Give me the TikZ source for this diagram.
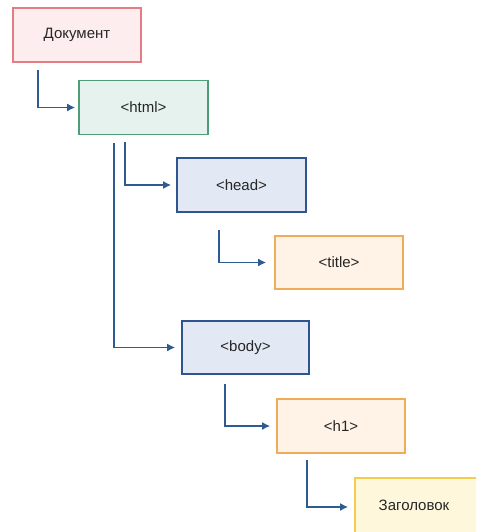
\documentclass[tikz,border=0pt]{standalone}
\usepackage{fontspec}
\setmainfont{Liberation Sans}
\usetikzlibrary{arrows.meta}
\definecolor{docfill}{HTML}{FDEDEE}
\definecolor{docdraw}{HTML}{E47C84}
\definecolor{htmlfill}{HTML}{E5F2EE}
\definecolor{htmldraw}{HTML}{4E9C78}
\definecolor{bluefill}{HTML}{E2E9F5}
\definecolor{bluedraw}{HTML}{2E558F}
\definecolor{orfill}{HTML}{FEF3E6}
\definecolor{ordraw}{HTML}{F1AC5A}
\definecolor{yefill}{HTML}{FFF7DC}
\definecolor{yedraw}{HTML}{F4CD4E}
\definecolor{arr}{HTML}{2F5B93}
\begin{document}
\begin{tikzpicture}[x=1pt,y=-1pt,
  box/.style={draw,line width=1.6pt,inner sep=0pt,font=\fontsize{15}{17}\selectfont,text=black!85},
  conn/.style={draw=arr,line width=1.6pt,-{Latex[length=8pt,width=8pt]}}]
\useasboundingbox (0,0) rectangle (476,532);
\begin{scope}
\clip (0,0) rectangle (476,532);
\node[box,fill=docfill,draw=docdraw,minimum width=128pt,minimum height=54pt] (doc) at (77,35) {Документ};
\node[box,fill=htmlfill,draw=htmldraw,minimum width=129pt,minimum height=54pt] (html) at (143.5,107.5) {<html>};
\node[box,fill=bluefill,draw=bluedraw,minimum width=129pt,minimum height=54pt] (head) at (241.5,185) {<head>};
\node[box,fill=orfill,draw=ordraw,minimum width=128pt,minimum height=53pt] (title) at (339,262.5) {<title>};
\node[box,fill=bluefill,draw=bluedraw,minimum width=127pt,minimum height=53pt] (body) at (245.5,347.5) {<body>};
\node[box,fill=orfill,draw=ordraw,minimum width=128pt,minimum height=54pt] (h1) at (341,426) {<h1>};
\node[box,fill=yefill,draw=yedraw,minimum width=140pt,minimum height=58pt] (zag) at (425,507) {};
\node[font=\fontsize{15}{17}\selectfont,text=black!85] (zagt) at (414,505) {Заголовок};
\end{scope}
\coordinate (a1) at (38,70);
\coordinate (a2) at (125,142);
\coordinate (a3) at (114,143);
\coordinate (a4) at (219,230);
\coordinate (a5) at (225,384);
\coordinate (a6) at (307,460);
\draw[conn] (a1) |- ([xshift=-3pt]html.west);
\draw[conn] (a2) |- ([xshift=-5pt]head.west);
\draw[conn] (a3) |- ([xshift=-6pt]body.west);
\draw[conn] (a4) |- ([xshift=-8pt]title.west);
\draw[conn] (a5) |- ([xshift=-6pt]h1.west);
\draw[conn] (a6) |- ([xshift=-6pt]zag.west);
\end{tikzpicture}
\end{document}
